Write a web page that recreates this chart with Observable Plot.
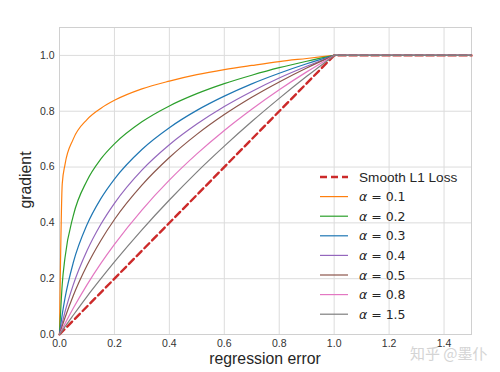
<!DOCTYPE html>
<html><head><meta charset="utf-8">
<script src="https://cdn.jsdelivr.net/npm/d3@7"></script>
<script src="https://cdn.jsdelivr.net/npm/@observablehq/plot@0.6"></script>
<style>
html,body{margin:0;padding:0;background:#fff;}
svg{display:block;}
</style></head>
<body><div id="chart"></div>
<script>
// regression error sample positions
const xs = [0, 0.01, 0.02, 0.05, 0.1, 0.15, 0.2, 0.3, 0.4, 0.5, 0.6, 0.7, 0.8, 0.9, 1.0, 1.5];
// gradient values, one list per alpha
const a01 = [0, 0.540, 0.609, 0.700, 0.770, 0.810, 0.839, 0.880, 0.908, 0.931, 0.949, 0.964, 0.978, 0.989, 1.0, 1.0];
const a02 = [0, 0.181, 0.275, 0.425, 0.551, 0.628, 0.683, 0.762, 0.819, 0.863, 0.899, 0.929, 0.956, 0.979, 1.0, 1.0];
const a03 = [0, 0.072, 0.130, 0.257, 0.393, 0.486, 0.557, 0.663, 0.741, 0.803, 0.854, 0.898, 0.936, 0.970, 1.0, 1.0];
const a04 = [0, 0.042, 0.081, 0.178, 0.300, 0.394, 0.470, 0.589, 0.680, 0.754, 0.817, 0.871, 0.919, 0.961, 1.0, 1.0];
const a05 = [0, 0.031, 0.060, 0.139, 0.247, 0.336, 0.412, 0.535, 0.634, 0.717, 0.788, 0.850, 0.905, 0.955, 1.0, 1.0];
const a08 = [0, 0.020, 0.039, 0.094, 0.178, 0.254, 0.323, 0.446, 0.553, 0.647, 0.731, 0.807, 0.877, 0.941, 1.0, 1.0];
const a15 = [0, 0.014, 0.028, 0.069, 0.136, 0.199, 0.260, 0.375, 0.482, 0.582, 0.675, 0.763, 0.846, 0.925, 1.0, 1.0];
// smooth L1 loss gradient
const smoothX = [0, 1.0, 1.5];
const smoothY = [0, 1.0, 1.0];
// labels
const seriesNames = ["α = 0.1", "α = 0.2", "α = 0.3", "α = 0.4", "α = 0.5", "α = 0.8", "α = 1.5"];
const alphaText = ["0.1", "0.2", "0.3", "0.4", "0.5", "0.8", "1.5"];
const seriesColors = ["#ff7f0e", "#2ca02c", "#1f77b4", "#9467bd", "#8c564b", "#e377c2", "#7f7f7f"];
const xTicks = [0, 0.2, 0.4, 0.6, 0.8, 1.0, 1.2, 1.4];
const yTicks = [0, 0.2, 0.4, 0.6, 0.8, 1.0];
const smoothName = "Smooth L1 Loss";
const smoothColor = "#cc2a2a";

const allSeries = [a01, a02, a03, a04, a05, a08, a15];
const rows = [];
allSeries.forEach((arr, i) => arr.forEach((v, j) => rows.push({x: xs[j], y: v, s: seriesNames[i]})));
const smoothRows = smoothX.map((x, i) => ({x, y: smoothY[i]}));

const lineMarks = [];
seriesNames.forEach((name, i) => {
  const d = rows.filter(r => r.s === name);
  lineMarks.push(Plot.line(d.filter(r => r.x <= 1), {x: "x", y: "y", stroke: seriesColors[i], strokeWidth: 1.2, curve: "monotone-x"}));
  lineMarks.push(Plot.line(d.filter(r => r.x >= 1), {x: "x", y: "y", stroke: seriesColors[i], strokeWidth: 1.2}));
});

const font = "'Liberation Sans', Arial, sans-serif";
const chart = Plot.plot({
  width: 500, height: 372,
  marginLeft: 59, marginRight: 29, marginTop: 27, marginBottom: 38,
  style: {fontFamily: font, fontSize: "10.5px", color: "#333", background: "#fff"},
  x: {domain: [0, 1.5]},
  y: {domain: [0, 1.1]},
  marks: [
    Plot.gridX(xTicks, {stroke: "#dcdcdc", strokeOpacity: 1, strokeWidth: 1}),
    Plot.gridY(yTicks, {stroke: "#dcdcdc", strokeOpacity: 1, strokeWidth: 1}),
    Plot.frame({stroke: "#d0d0d0", strokeWidth: 1}),
    Plot.axisX(xTicks, {tickSize: 0, tickPadding: 5, tickFormat: d3.format(".1f"), label: null, fill: "#333"}),
    Plot.axisY(yTicks, {tickSize: 0, tickPadding: 5, tickFormat: d3.format(".1f"), label: null, fill: "#333"}),
    Plot.line(smoothRows, {x: "x", y: "y", stroke: smoothColor, strokeWidth: 2.4, strokeDasharray: "7,4"}),
    ...lineMarks
  ]
});
document.getElementById("chart").appendChild(chart);

const svg = d3.select(chart);
// axis labels
svg.append("text").attr("x", 265).attr("y", 364).attr("text-anchor", "middle")
  .attr("font-family", font).attr("font-size", 15.8).attr("fill", "#262626").text("regression error");
svg.append("text").attr("transform", "translate(31,180) rotate(-90)").attr("text-anchor", "middle")
  .attr("font-family", font).attr("font-size", 15.8).attr("fill", "#262626").text("gradient");

// legend
const lg = svg.append("g").attr("text-anchor", "start");
const entries = [{name: smoothName, color: smoothColor, dash: "7,4", w: 2.4}]
  .concat(seriesNames.map((n, i) => ({name: n, alpha: alphaText[i], color: seriesColors[i], dash: null, w: 1.2})));
entries.forEach((e, i) => {
  const y = 177 + i * 19.6;
  lg.append("line").attr("x1", 320).attr("x2", 348).attr("y1", y).attr("y2", y)
    .attr("stroke", e.color).attr("stroke-width", e.w).attr("stroke-dasharray", e.dash);
  if (e.alpha) {
    const t = lg.append("text").attr("x", 359).attr("y", y + 4.5).attr("text-anchor", "start")
      .attr("font-family", "'DejaVu Sans', sans-serif").attr("font-size", 12.5).attr("fill", "#262626");
    t.append("tspan").attr("font-style", "italic").text("α");
    t.append("tspan").text(" = " + e.alpha);
  } else {
    lg.append("text").attr("x", 359).attr("y", y + 4.8).attr("text-anchor", "start")
      .attr("font-family", font).attr("font-size", 13.6).attr("fill", "#262626").text(e.name);
  }
});

// watermark
svg.append("text").attr("x", 410).attr("y", 359).attr("text-anchor", "start")
  .attr("font-family", "'Noto Sans CJK SC', sans-serif")
  .attr("font-size", 15).attr("fill", "#d4d4d4").text("知乎 @墨仆");
</script>
</body></html>
